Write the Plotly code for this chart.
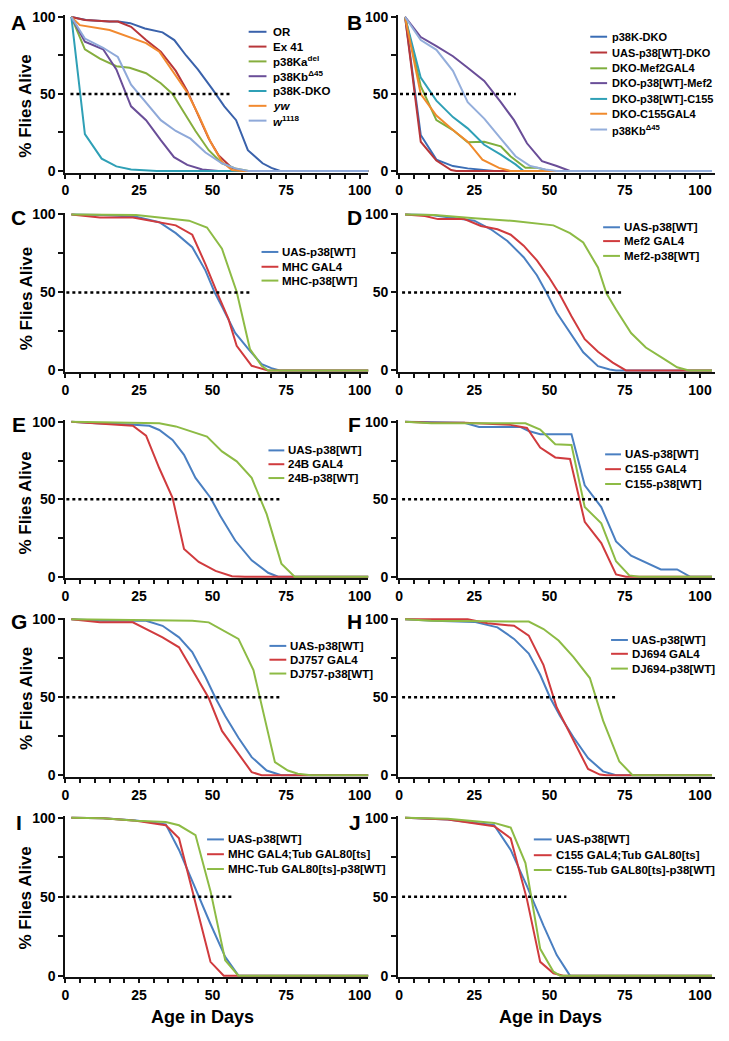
import plotly.graph_objects as go

# Reference canvas (pixels) and page offset of the plot div (default 8px body margin)
REF_W, REF_H = 729, 1041
OFF = 8
W, H = REF_W - 2 * OFF, REF_H - 2 * OFF
FONT = "Arial, 'Liberation Sans', Helvetica, sans-serif"

# ---------------- DATA (days, % alive) ----------------
# Panel A
A_OR_x = [2, 7, 15, 18, 22, 27, 33, 37, 41, 45, 50, 54, 58, 62, 67, 70, 73, 103]
A_OR_y = [100, 98, 97, 97, 96, 92.5, 90, 85, 75, 66, 53, 42, 33, 13.5, 5, 2, 0, 0]
A_Ex41_x = [2, 6.6, 15, 17.8, 22.3, 27.4, 32.4, 37.5, 41.4, 45.3, 48.7, 52.1, 56.6, 60, 103]
A_Ex41_y = [100, 98, 97, 97, 93.6, 85, 77.5, 65, 52, 36, 21, 10, 2, 0, 0]
A_Kadel_x = [2, 6.6, 11.7, 17.3, 21.8, 27.4, 32.4, 36.4, 40.3, 44.2, 48.7, 53.2, 57.7, 62.2, 103]
A_Kadel_y = [100, 79, 73, 68, 67, 63.5, 57, 50, 38, 26, 13.5, 5, 1.7, 0, 0]
A_Kb45_x = [2, 6.6, 12.8, 17.3, 22.3, 27.4, 32.4, 36.9, 41.4, 46.5, 52, 103]
A_Kb45_y = [100, 84, 79, 66, 42, 33, 20, 9, 4, 1, 0, 0]
A_DKO_x = [2, 6.6, 12.3, 17.3, 22.3, 27.4, 31, 103]
A_DKO_y = [100, 24, 8, 3, 1, 0.3, 0, 0]
A_yw_x = [2, 4.9, 15, 21.2, 27.4, 31.9, 36.4, 41.4, 45.3, 49.3, 53.2, 56.6, 60, 103]
A_yw_y = [100, 94.7, 91.5, 87, 83, 77.5, 65, 51, 36, 19, 6, 0.6, 0, 0]
A_w1118_x = [2, 6.6, 12.8, 17.8, 22.3, 27.4, 32.4, 37.5, 42.5, 47.6, 53.2, 57.7, 62.2, 103]
A_w1118_y = [100, 86, 80, 74, 56, 44, 33, 26, 21, 12, 5, 1.7, 0, 0]

# Panel B
B_DKO_x = [2, 7.2, 12.4, 17.9, 22.8, 28.3, 31.6, 104]
B_DKO_y = [100, 23.4, 7.4, 3.2, 1.7, 0.6, 0, 0]
B_UASDKO_x = [2, 7.2, 12.4, 17.3, 19, 104]
B_UASDKO_y = [100, 19, 6.8, 0.6, 0, 0]
B_Mef2G_x = [2, 7.2, 12.4, 17.9, 22.8, 28.3, 33.8, 37, 42, 45.8, 50.2, 104]
B_Mef2G_y = [100, 55, 33, 26.6, 18.7, 19, 16, 9.6, 2.1, 2.1, 0, 0]
B_Mef2p38_x = [2, 7.2, 12.4, 17.9, 22.8, 28.3, 33.8, 38.2, 42.5, 47.5, 52.4, 56.8, 104]
B_Mef2p38_y = [100, 87, 81, 74.5, 67, 58.5, 44.7, 33, 18, 6.4, 3.2, 0, 0]
B_C155p38_x = [2, 7.2, 12.4, 17.9, 22.8, 28.3, 33.8, 38.7, 41.4, 104]
B_C155p38_y = [100, 60.6, 45.7, 35, 27.7, 17, 10.6, 4.3, 0, 0]
B_C155G_x = [2, 7.2, 12.4, 17.9, 22.8, 27.7, 33.2, 37, 104]
B_C155G_y = [100, 50, 36, 26.6, 19, 7.4, 2, 0, 0]
B_Kb45_x = [2, 7.2, 12.4, 17.9, 22.8, 28.3, 33.8, 38.7, 43.6, 48.6, 52.4, 104]
B_Kb45_y = [100, 85, 78.7, 65, 44.7, 34, 21, 9.6, 3.2, 1, 0, 0]

# Panel C
C_UAS_x = [2, 12.8, 24, 31.9, 37.5, 43.1, 47.6, 50.7, 53.2, 57.7, 62.2, 66.7, 70, 72.8, 103]
C_UAS_y = [100, 99.6, 98.5, 95, 88, 79, 64, 50, 41, 24, 13.7, 4, 1.5, 0, 0]
C_MHC_x = [2, 11.7, 22.9, 31.9, 37.5, 43.1, 47.6, 51.5, 55.4, 58.2, 63.3, 68.9, 103]
C_MHC_y = [100, 98, 98, 95, 93, 87, 68, 50, 33, 15.8, 3, 0, 0]
C_MHCp38_x = [2, 24, 31.9, 42, 48.1, 53.2, 58.2, 62.7, 66.7, 68.9, 103]
C_MHCp38_y = [100, 99.6, 98, 96, 91.6, 78, 50.5, 13.7, 3, 0, 0]

# Panel D
D_UAS_x = [2, 10.7, 25, 30.5, 36, 41.4, 45.8, 49.1, 52.4, 56.8, 61.2, 66.1, 70, 72.1, 104]
D_UAS_y = [100, 99.6, 96, 90.5, 83, 72.6, 61, 49.5, 37, 24, 11.6, 2.7, 0.6, 0, 0]
D_Mef2_x = [2, 8.6, 12.9, 21.7, 27.2, 32.7, 37.1, 41.4, 45.8, 49.7, 53.5, 57.3, 61.7, 66.1, 71, 75.4, 104]
D_Mef2_y = [100, 99, 97, 97, 92.6, 90.5, 87, 80, 70.5, 60, 48.4, 34.7, 20, 12, 5, 0, 0]
D_Mef2p38_x = [2, 11.8, 25, 38.2, 51.3, 56.8, 61.2, 66.1, 68.9, 72.1, 77.1, 82, 88, 92.4, 96.3, 104]
D_Mef2p38_y = [100, 99.6, 97.5, 95.8, 93, 88, 82, 66, 49.5, 39, 24, 14.7, 7.4, 2, 0, 0]

# Panel E
E_UAS_x = [2, 10.5, 21.8, 28.5, 31.9, 36.4, 40.3, 44.2, 49.3, 52.6, 57.7, 63.3, 68.9, 72.3, 103]
E_UAS_y = [100, 99, 98.3, 97.4, 94.7, 88.3, 78.7, 63.8, 51, 39.4, 23.4, 10.6, 2.6, 0, 0]
E_24B_x = [2, 15, 22.9, 27.4, 31.9, 36.4, 40.3, 45.3, 51, 56.6, 61, 103]
E_24B_y = [100, 98.3, 97.4, 91, 70, 51, 18, 9.6, 3.8, 0.4, 0, 0]
E_24Bp38_x = [2, 31.9, 37.5, 43.1, 48.1, 53.2, 58.2, 63.3, 68.4, 73.4, 77.9, 103]
E_24Bp38_y = [100, 99, 97, 93.6, 90.4, 80.9, 74.5, 63.8, 40.4, 8.5, 0, 0]

# Panel F
F_UAS_x = [2, 21.7, 26.6, 40.4, 43.1, 46.9, 57.3, 61.7, 67.2, 72.1, 77.1, 82, 87, 92.4, 96.8, 104]
F_UAS_y = [100, 99.4, 96.6, 96.6, 94, 92, 92, 59, 45, 22.8, 13.6, 9, 4.7, 4.7, 0, 0]
F_C155_x = [2, 10.7, 21.7, 37, 42.5, 46.9, 51.9, 56.8, 61.7, 67.2, 72.1, 75.4, 104]
F_C155_y = [100, 99.4, 99.4, 98, 96, 83.4, 77, 76, 35.5, 21.7, 1.5, 0, 0]
F_C155p38_x = [2, 10.7, 42, 46.9, 51.9, 57.3, 61.7, 67.2, 72.1, 76.5, 79.8, 104]
F_C155p38_y = [100, 99, 99, 95, 85.5, 85, 45, 34.5, 10, 0.9, 0, 0]

# Panel G
G_UAS_x = [2, 12.8, 27.4, 33, 38.6, 43.1, 47.6, 51, 54.3, 58.8, 63.3, 68.4, 73.4, 103]
G_UAS_y = [100, 99, 99, 95.8, 88.4, 79, 63, 49.5, 38, 24, 11.6, 3, 0, 0]
G_DJ757_x = [2, 11.7, 22.9, 28.5, 33, 38.6, 43.1, 48.7, 53.2, 58.8, 63.3, 66.7, 103]
G_DJ757_y = [100, 98, 98, 92.6, 88.4, 82, 67.4, 49.5, 28.4, 13.7, 2, 0, 0]
G_DJ757p38_x = [2, 33, 43.1, 48.7, 53.8, 58.8, 63.9, 68.9, 71.2, 75.6, 79, 83.5, 103]
G_DJ757p38_y = [100, 99.6, 99, 98, 92.6, 87.4, 67.4, 27.4, 8.4, 3, 1, 0, 0]

# Panel H
H_UAS_x = [2, 11.8, 25, 32.7, 38.2, 43.1, 46.9, 50.2, 53.5, 57.9, 62.8, 67.8, 72.1, 104]
H_UAS_y = [100, 99, 98.3, 94.8, 87.4, 78, 64.4, 49.7, 38, 24.5, 11, 2.5, 0, 0]
H_DJ694_x = [2, 22.8, 29.4, 38.2, 43.1, 48, 52.4, 57.3, 62.8, 66.7, 68.9, 104]
H_DJ694_y = [100, 100, 97.5, 95.8, 89.5, 70.6, 43.4, 24.5, 4, 0.4, 0, 0]
H_DJ694p38_x = [2, 10.7, 43.1, 48, 53, 57.9, 63.4, 67.8, 73.2, 77.6, 104]
H_DJ694p38_y = [100, 99, 98.5, 93.7, 86.4, 75.9, 62.3, 35, 8.8, 0, 0]

# Panel I
I_UAS_x = [2, 12.8, 24, 34.1, 38.6, 43.7, 49.3, 54.3, 58.8, 103]
I_UAS_y = [100, 99.6, 98.3, 95.8, 79.6, 56.7, 32.7, 11.9, 0, 0]
I_MHC_x = [2, 12.8, 22.9, 34.1, 38.6, 44.2, 49.3, 53.8, 103]
I_MHC_y = [100, 99.6, 98.3, 95.2, 86.9, 46, 8.75, 0, 0]
I_MHCp38_x = [2, 12.8, 24, 34.1, 38.6, 44.2, 49.3, 54.3, 58.8, 103]
I_MHCp38_y = [100, 99.6, 98, 97.3, 95.2, 89, 53.5, 9.8, 0, 0]

# Panel J
J_UAS_x = [2, 16.2, 31.6, 37.1, 42.5, 48, 52.4, 56.8, 104]
J_UAS_y = [100, 98.8, 95.2, 79.6, 56.7, 31.7, 13, 0, 0]
J_C155_x = [2, 16.2, 31.6, 37.1, 42.5, 46.9, 51.3, 54.6, 104]
J_C155_y = [100, 98.8, 94.6, 86.9, 48.3, 8.75, 1.5, 0, 0]
J_C155p38_x = [2, 16.2, 31.6, 37.1, 42, 46.9, 51.3, 53.5, 104]
J_C155p38_y = [100, 99.4, 96.7, 93.75, 71.3, 17, 2.5, 0, 0]

# tick values / labels
X_MAJOR = [0, 25, 50, 75, 100]
X_LABELS = ["0", "25", "50", "75", "100"]
X_MINOR = [v for v in range(0, 101, 5) if v % 25 != 0]
Y_MAJOR = [0, 50, 100]
Y_LABELS = ["0", "50", "100"]
Y_MINOR = [25, 75]

# ---------------- COLOURS ----------------
BLUE, RED, GREEN = "#4a7fc1", "#d03b3e", "#8dbb45"
C_OR, C_EX, C_KA, C_KB, C_DKO, C_YW, C_W = "#3a62ab", "#b8363a", "#86ae3e", "#6a4e98", "#2fa0b6", "#f28a30", "#8fa9d9"

# ---------------- PANELS ----------------
panels = [
    dict(letter="A", row=0, col=0, dot=(1.7, 56.6), fs=11.5,
         leg=dict(lx=(247, 265), tx=270, ys=[25, 40, 55, 70, 85, 100, 115]),
         series=[(A_OR_x, A_OR_y, "OR", C_OR), (A_Ex41_x, A_Ex41_y, "Ex 41", C_EX),
                 (A_Kadel_x, A_Kadel_y, "p38Ka<sup>del</sup>", C_KA),
                 (A_Kb45_x, A_Kb45_y, "p38Kb<sup>Δ45</sup>", C_KB),
                 (A_DKO_x, A_DKO_y, "p38K-DKO", C_DKO), (A_yw_x, A_yw_y, "<i>yw</i>", C_YW),
                 (A_w1118_x, A_w1118_y, "<i>w</i><sup>1118</sup>", C_W)]),
    dict(letter="B", row=0, col=1, dot=(0.3, 38.8), fs=11,
         leg=dict(lx=(592, 609), tx=612, ys=[30, 46, 62, 77, 93, 108, 124]),
         series=[(B_DKO_x, B_DKO_y, "p38K-DKO", "#3a6db5"), (B_UASDKO_x, B_UASDKO_y, "UAS-p38[WT]-DKO", C_EX),
                 (B_Mef2G_x, B_Mef2G_y, "DKO-Mef2GAL4", "#7eae3d"),
                 (B_Mef2p38_x, B_Mef2p38_y, "DKO-p38[WT]-Mef2", C_KB),
                 (B_C155p38_x, B_C155p38_y, "DKO-p38[WT]-C155", C_DKO),
                 (B_C155G_x, B_C155G_y, "DKO-C155GAL4", "#f08a2c"),
                 (B_Kb45_x, B_Kb45_y, "p38Kb<sup>Δ45</sup>", "#94aedb")]),
    dict(letter="C", row=1, col=0, dot=(0.3, 63.3), fs=11.5,
         leg=dict(lx=(260, 277), tx=279, ys=[248, 263, 277]),
         series=[(C_UAS_x, C_UAS_y, "UAS-p38[WT]", BLUE), (C_MHC_x, C_MHC_y, "MHC GAL4", RED),
                 (C_MHCp38_x, C_MHCp38_y, "MHC-p38[WT]", GREEN)]),
    dict(letter="D", row=1, col=1, dot=(1.0, 74.3), fs=11.5,
         leg=dict(lx=(605, 622), tx=624, ys=[223, 237, 252]),
         series=[(D_UAS_x, D_UAS_y, "UAS-p38[WT]", BLUE), (D_Mef2_x, D_Mef2_y, "Mef2 GAL4", RED),
                 (D_Mef2p38_x, D_Mef2p38_y, "Mef2-p38[WT]", GREEN)]),
    dict(letter="E", row=2, col=0, dot=(0.3, 73.4), fs=11.5,
         leg=dict(lx=(267, 283), tx=285, ys=[449, 463, 477]),
         series=[(E_UAS_x, E_UAS_y, "UAS-p38[WT]", BLUE), (E_24B_x, E_24B_y, "24B GAL4", RED),
                 (E_24Bp38_x, E_24Bp38_y, "24B-p38[WT]", GREEN)]),
    dict(letter="F", row=2, col=1, dot=(1.0, 70.4), fs=11.5,
         leg=dict(lx=(607, 623), tx=625, ys=[453, 468, 483]),
         series=[(F_UAS_x, F_UAS_y, "UAS-p38[WT]", BLUE), (F_C155_x, F_C155_y, "C155 GAL4", RED),
                 (F_C155p38_x, F_C155p38_y, "C155-p38[WT]", GREEN)]),
    dict(letter="G", row=3, col=0, dot=(0.3, 72.7), fs=11.5,
         leg=dict(lx=(268, 285), tx=287, ys=[647, 661, 675]),
         series=[(G_UAS_x, G_UAS_y, "UAS-p38[WT]", BLUE), (G_DJ757_x, G_DJ757_y, "DJ757 GAL4", RED),
                 (G_DJ757p38_x, G_DJ757p38_y, "DJ757-p38[WT]", GREEN)]),
    dict(letter="H", row=3, col=1, dot=(1.0, 72.7), fs=11.5,
         leg=dict(lx=(613, 630), tx=632, ys=[641, 655, 670]),
         series=[(H_UAS_x, H_UAS_y, "UAS-p38[WT]", BLUE), (H_DJ694_x, H_DJ694_y, "DJ694 GAL4", RED),
                 (H_DJ694p38_x, H_DJ694p38_y, "DJ694-p38[WT]", GREEN)]),
    dict(letter="I", row=4, col=0, dot=(0.3, 57.2), fs=11.5,
         leg=dict(lx=(205, 222), tx=224, ys=[843, 858, 873]),
         series=[(I_UAS_x, I_UAS_y, "UAS-p38[WT]", BLUE), (I_MHC_x, I_MHC_y, "MHC GAL4;Tub GAL80[ts]", RED),
                 (I_MHCp38_x, I_MHCp38_y, "MHC-Tub GAL80[ts]-p38[WT]", GREEN)]),
    dict(letter="J", row=4, col=1, dot=(1.0, 55.6), fs=11.5,
         leg=dict(lx=(535, 553), tx=555, ys=[843, 859, 874]),
         series=[(J_UAS_x, J_UAS_y, "UAS-p38[WT]", BLUE), (J_C155_x, J_C155_y, "C155 GAL4;Tub GAL80[ts]", RED),
                 (J_C155p38_x, J_C155p38_y, "C155-Tub GAL80[ts]-p38[WT]", GREEN)]),
]

# ---------------- GEOMETRY (reference pixels) ----------------
ROWS = [(10, 166), (210, 368), (420, 577), (620, 778), (821, 981)]   # y px of 100% and 0%
COLS = [(62, 368, 0, 103), (398, 718, -0.3, 105)]                      # px0, px1, xmin, xmax
LETTER_X = {0: 15, 1: 354}
LETTER_Y = [16, 213, 423, 622, 826]
YTITLE_Y = [100, 295, 502, 700, 902]
YLO, YHI = -1.0, 101.0


def fx(px):
    return (px - OFF) / W


def fy(py):
    return 1 - (py - OFF) / H


fig = go.Figure()
layout = dict(width=W, height=H, margin=dict(l=0, r=0, t=0, b=0),
              paper_bgcolor="white", plot_bgcolor="white", showlegend=False,
              font=dict(family=FONT, color="black"))
shapes, annots = [], []

for i, p in enumerate(panels):
    n = i + 1
    xa = "x" if n == 1 else f"x{n}"
    ya = "y" if n == 1 else f"y{n}"
    py100, py0 = ROWS[p["row"]]
    unit = (py0 - py100) / 100.0
    top_px = py100 - (YHI - 100) * unit
    bot_px = py0 - YLO * unit
    px0, px1, xmin, xmax = COLS[p["col"]]

    axis_common = dict(showgrid=False, zeroline=False, showline=True, linecolor="#111",
                       linewidth=2, ticks="outside", tickcolor="#111", tickwidth=1.5,
                       layer="below traces")
    layout["xaxis" if n == 1 else f"xaxis{n}"] = dict(
        axis_common, domain=[fx(px0), fx(px1)], range=[xmin, xmax], anchor=ya,
        tickmode="array", tickvals=X_MAJOR, ticktext=X_LABELS, ticklen=4,
        minor=dict(tickmode="array", tickvals=X_MINOR, ticks="outside", ticklen=4,
                   tickwidth=1.5, tickcolor="#111", showgrid=False),
        tickfont=dict(size=14, family=FONT, weight="bold"))
    layout["yaxis" if n == 1 else f"yaxis{n}"] = dict(
        axis_common, domain=[fy(bot_px), fy(top_px)], range=[YLO, YHI], anchor=xa,
        tickmode="array", tickvals=Y_MAJOR, ticktext=Y_LABELS, ticklen=5,
        minor=dict(tickmode="array", tickvals=Y_MINOR, ticks="outside", ticklen=5,
                   tickwidth=1.5, tickcolor="#111", showgrid=False),
        tickfont=dict(size=14, family=FONT, weight="bold"))

    for (xs, ys, name, col) in p["series"]:
        fig.add_trace(go.Scatter(x=xs, y=ys, mode="lines", name=name,
                                 line=dict(color=col, width=2),
                                 xaxis=xa, yaxis=ya, hoverinfo="skip"))

    # 50% reference line
    shapes.append(dict(type="line", xref=xa, yref=ya, x0=p["dot"][0], x1=p["dot"][1],
                       y0=50, y1=50, line=dict(color="black", width=2.5, dash="dot")))

    # legend (drawn inside plot, no frame)
    lg = p["leg"]
    for (xs, ys, name, col), ly in zip(p["series"], lg["ys"]):
        shapes.append(dict(type="line", xref="paper", yref="paper",
                           x0=fx(lg["lx"][0]), x1=fx(lg["lx"][1]), y0=fy(ly), y1=fy(ly),
                           line=dict(color=col, width=2)))
        annots.append(dict(xref="paper", yref="paper", x=fx(lg["tx"]), y=fy(ly),
                           xanchor="left", yanchor="middle", text=name, showarrow=False,
                           font=dict(size=p["fs"], family=FONT, weight="bold")))

    # panel letter
    annots.append(dict(xref="paper", yref="paper", x=fx(LETTER_X[p["col"]]), y=fy(LETTER_Y[p["row"]]),
                       xanchor="center", yanchor="middle", text=p["letter"], showarrow=False,
                       font=dict(size=21, family=FONT, weight="bold")))

# y axis titles
for r in range(5):
    annots.append(dict(xref="paper", yref="paper", x=fx(22), y=fy(YTITLE_Y[r]),
                       xanchor="center", yanchor="middle", text="% Flies Alive", textangle=-90,
                       showarrow=False, font=dict(size=17, family=FONT, weight="bold")))

# x axis titles
for cx in (200, 552):
    annots.append(dict(xref="paper", yref="paper", x=fx(cx), y=fy(1023),
                       xanchor="center", yanchor="middle", text="Age in Days",
                       showarrow=False, font=dict(size=18, family=FONT, weight="bold")))

layout["shapes"] = shapes
layout["annotations"] = annots
fig.update_layout(**layout)
fig.write_html("out.html")
